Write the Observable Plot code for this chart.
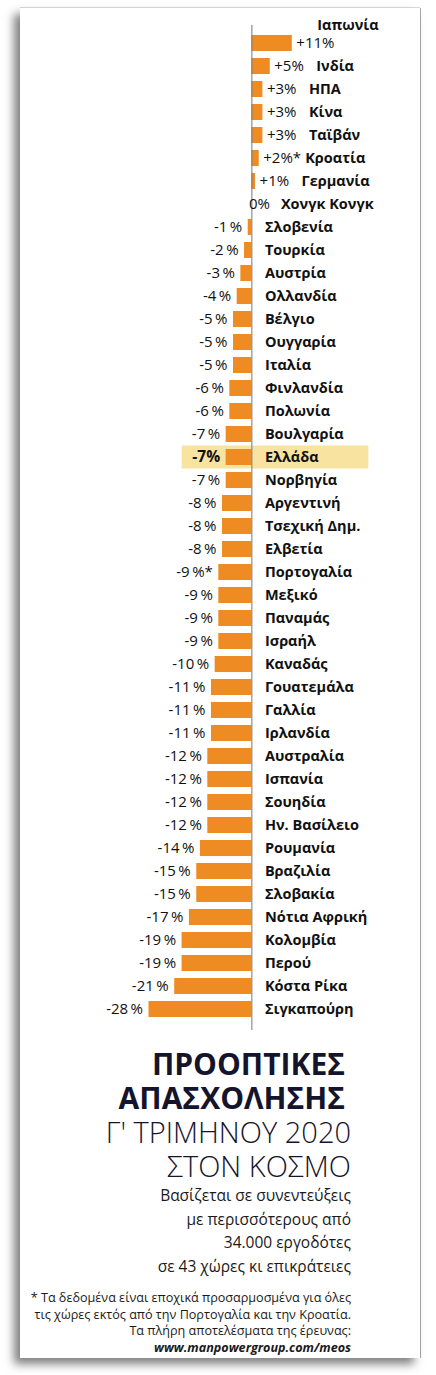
<!DOCTYPE html>
<html><head><meta charset="utf-8">
<script src="https://cdn.jsdelivr.net/npm/d3@7"></script>
<script src="https://cdn.jsdelivr.net/npm/@observablehq/plot@0.6"></script>
<style>
html,body{margin:0;padding:0;background:#fff;}
body{width:436px;height:1375px;position:relative;overflow:hidden;font-family:"Open Sans",sans-serif;}
#card{position:absolute;left:20px;top:8px;width:400px;height:1350px;background:#fff;
  box-shadow:-6px 6px 9px rgba(0,0,0,0.5), 1px 0 0 #aaa, 0 -1px 0 #ddd;}
#chart{position:absolute;left:0;top:0;}
.blk{position:absolute;right:69px;text-align:right;white-space:nowrap;color:#14142c;}
.blk div{overflow:visible;}
#title{top:1039px;}
#title .b{font-weight:700;padding-right:6px;font-size:30px;line-height:34px;height:34px;}
#title .l{font-weight:300;font-size:29px;line-height:34px;height:34px;}
#sub{top:1176px;font-size:15.5px;line-height:23.5px;color:#1a1a1a;}
#note{top:1282px;font-size:12.6px;line-height:16.5px;color:#1a1a1a;}
#note i{font-weight:700;}
</style></head>
<body>
<div id="card">
  <div id="chart"></div>
  <div id="title" class="blk"><div class="b">ΠΡΟΟΠΤΙΚΕΣ</div><div class="b">ΑΠΑΣΧΟΛΗΣΗΣ</div><div class="l">Γ' ΤΡΙΜΗΝΟΥ 2020</div><div class="l">ΣΤΟΝ ΚΟΣΜΟ</div></div>
  <div id="sub" class="blk"><div>Βασίζεται σε συνεντεύξεις</div><div>με περισσότερους από</div><div>34.000 εργοδότες</div><div>σε 43 χώρες κι επικράτειες</div></div>
  <div id="note" class="blk"><div>* Τα δεδομένα είναι εποχικά προσαρμοσμένα για όλες</div><div>τις χώρες εκτός από την Πορτογαλία και την Κροατία.</div><div>Τα πλήρη αποτελέσματα της έρευνας:</div><div><i>www.manpowergroup.com/meos</i></div></div>
</div>
<script>
const countries = ["Ιαπωνία","Ινδία","ΗΠΑ","Κίνα","Ταϊβάν","Κροατία","Γερμανία","Χονγκ Κονγκ","Σλοβενία","Τουρκία","Αυστρία","Ολλανδία","Βέλγιο","Ουγγαρία","Ιταλία","Φινλανδία","Πολωνία","Βουλγαρία","Ελλάδα","Νορβηγία","Αργεντινή","Τσεχική Δημ.","Ελβετία","Πορτογαλία","Μεξικό","Παναμάς","Ισραήλ","Καναδάς","Γουατεμάλα","Γαλλία","Ιρλανδία","Αυστραλία","Ισπανία","Σουηδία","Ην. Βασίλειο","Ρουμανία","Βραζιλία","Σλοβακία","Νότια Αφρική","Κολομβία","Περού","Κόστα Ρίκα","Σιγκαπούρη"];
const values = [11,5,3,3,3,2,1,0,-1,-2,-3,-4,-5,-5,-5,-6,-6,-7,-7,-7,-8,-8,-8,-9,-9,-9,-9,-10,-11,-11,-11,-12,-12,-12,-12,-14,-15,-15,-17,-19,-19,-21,-28];
const starred = ["Κροατία","Πορτογαλία"];
const highlighted = "Ελλάδα";
const nameAbove = ["Ιαπωνία"];

const data = countries.map((c,i)=>({country:c, value:values[i], star:starred.includes(c)}));
const fmt = d => (d.value>0 ? `+${d.value}%` : d.value<0 ? `${d.value}\u2009%` : "0%") + (d.star ? "*" : "");
const ink = "#111";
const vfs = 15;
const nfs = 14.5;

const neg = data.filter(d=>d.value<0);
const pos = data.filter(d=>d.value>0);
const zero = data.filter(d=>d.value===0);

const chart = Plot.plot({
  width:400, height:1030, marginTop:17, marginBottom:8, marginLeft:0, marginRight:0,
  x:{domain:[-28,11], range:[128.5,271.8], axis:null},
  y:{domain:countries, range:[21.33,1014.5], paddingInner:0.3, paddingOuter:0.15, axis:null},
  style:{fontFamily:"'Open Sans', sans-serif", background:"transparent", overflow:"visible"},
  marks:[
    Plot.barX(data.filter(d=>d.country===highlighted), {x1:"value", x2:d=>0, y:"country", fill:"#F8E3A0",
      insetLeft:-44, insetRight:-117, insetTop:-3.5, insetBottom:-3.5}),
    Plot.barX(data, {x1:d=>0, x2:"value", y:"country", fill:"#EE8B22"}),
    Plot.ruleX([0], {stroke:"#777", strokeWidth:1}),
    // value labels
    Plot.text(neg.filter(d=>d.country!==highlighted), {x:"value", y:"country", text:fmt, textAnchor:"end", dx:-6, fill:ink, fontSize:vfs}),
    Plot.text(neg.filter(d=>d.country===highlighted), {x:"value", y:"country", text:d=>`${d.value}%`, textAnchor:"end", dx:-6, fill:ink, fontSize:vfs+0.5, fontWeight:"bold"}),
    Plot.text(pos, {x:"value", y:"country", text:fmt, textAnchor:"start", dx:4, fill:ink, fontSize:vfs}),
    Plot.text(zero, {x:d=>0, y:"country", text:fmt, textAnchor:"start", dx:-3, fill:ink, fontSize:vfs}),
    // country names
    Plot.text(neg, {x:d=>0, y:"country", text:"country", textAnchor:"start", dx:13, fill:ink, fontSize:nfs, fontWeight:"bold"}),
    Plot.text(zero, {x:d=>0, y:"country", text:"country", textAnchor:"start", dx:29, fill:ink, fontSize:nfs, fontWeight:"bold"}),
    Plot.text(pos.filter(d=>!nameAbove.includes(d.country)), {x:"value", y:"country", text:"country", textAnchor:"start", dx:46, fill:ink, fontSize:nfs, fontWeight:"bold"}),
    Plot.text(pos.filter(d=>nameAbove.includes(d.country)), {x:"value", y:"country", text:"country", textAnchor:"start", dx:25, dy:-18, fill:ink, fontSize:nfs, fontWeight:"bold"})
  ]
});
document.getElementById("chart").appendChild(chart);
</script>
</body></html>
